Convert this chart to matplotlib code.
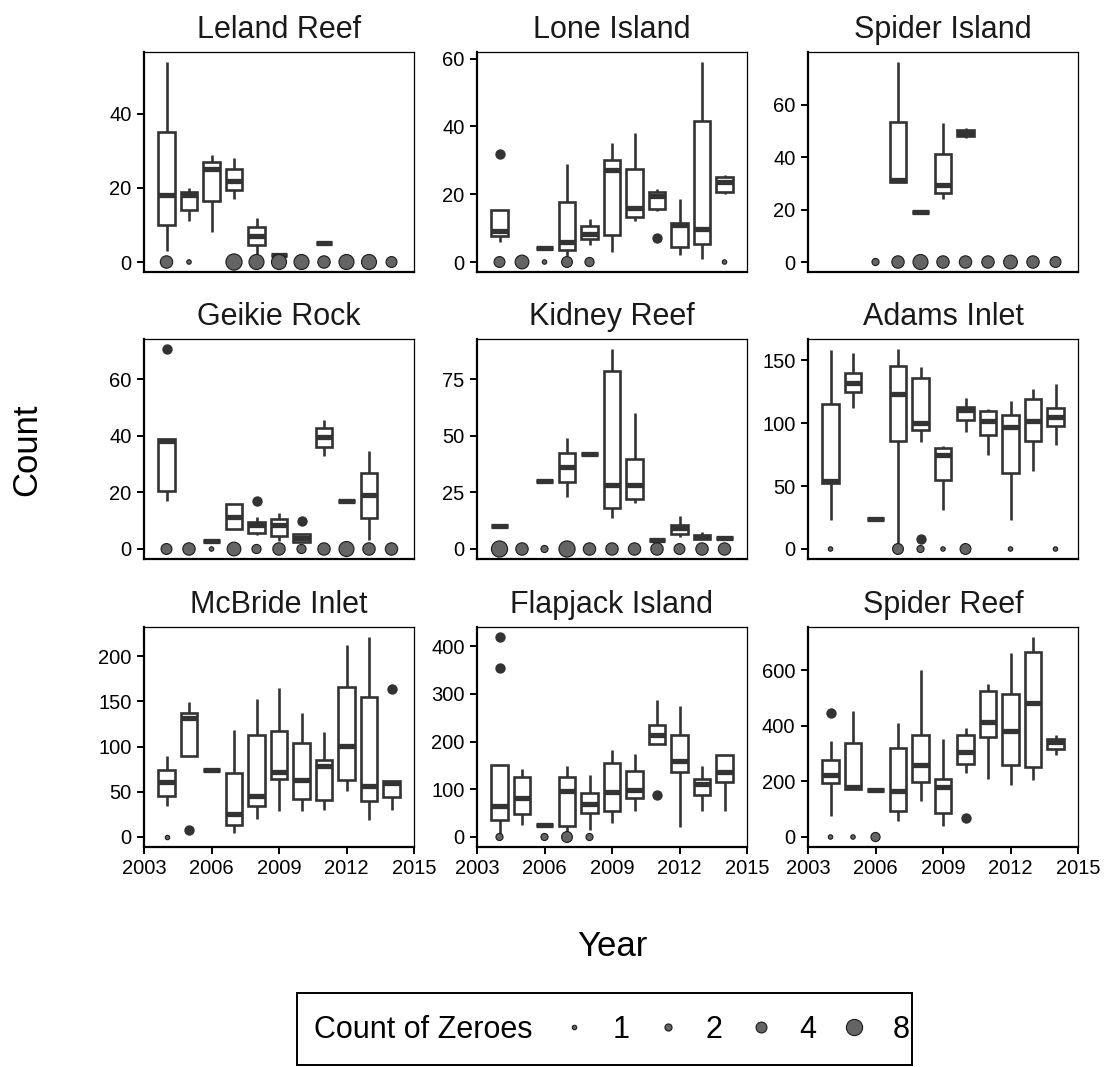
import numpy as np
import matplotlib.pyplot as plt
from matplotlib.lines import Line2D
from matplotlib.patches import Rectangle

plt.rcParams['font.family'] = ['Liberation Sans', 'DejaVu Sans']

years = [2004, 2005, 2006, 2007, 2008, 2009, 2010, 2011, 2012, 2013, 2014]
x_ticks = [2003, 2006, 2009, 2012, 2015]

# box stats per year: (low whisker, q1, median, q3, high whisker); None = no non-zero counts
leland_box = [(3, 10, 18, 35, 54), (11, 14, 18, 19, 20), (8, 16.5, 25, 27, 29),
              (17, 19.5, 22, 25, 28), (2, 4.5, 7, 9.5, 12), (2, 2, 2, 2, 2),
              None, (5, 5, 5, 5, 5), None, None, None]
leland_out = []
leland_zero = [5, 1, 0, 8, 7, 7, 7, 5, 7, 7, 4]
leland_ticks = [0, 20, 40]

lone_box = [(6, 7.6, 9, 15.4, 15.4), None, (4, 4, 4, 4, 4), (1.7, 3.4, 6, 17.6, 29),
            (5, 6.8, 8.2, 10.5, 12.8), (3, 8, 27, 30, 35), (12, 13.3, 16, 27.4, 38),
            (15, 15.7, 19.5, 20.6, 21.6), (2, 4.4, 10.8, 11.5, 18.7),
            (1, 5.3, 9.7, 41.5, 59), (20, 20.6, 23.5, 25.2, 25.7)]
lone_out = [(2004, 32), (2011, 7)]
lone_zero = [4, 6, 1, 4, 3, 0, 0, 0, 0, 0, 1]
lone_ticks = [0, 20, 40, 60]

spider_is_box = [None, None, None, (30.4, 30.4, 31.4, 53.6, 76.3), (19, 19, 19, 19, 19),
                 (24.2, 26.3, 29.5, 41.2, 53), (47.3, 48.2, 49.2, 50.2, 51),
                 None, None, None, None]
spider_is_out = []
spider_is_zero = [0, 0, 2, 5, 7, 5, 5, 5, 6, 5, 4]
spider_is_ticks = [0, 20, 40, 60]

geikie_box = [(17.1, 20.6, 38, 38.8, 38.8), None, (3, 3, 3, 3, 3), (7, 7, 11.4, 15.9, 15.9),
              (5, 5.5, 8.5, 9.4, 11.4), (3, 4.7, 8.5, 10.5, 12.6), (2.4, 2.4, 3.8, 5.3, 5.3),
              (33, 36, 39.7, 42.7, 45.6), (17, 17, 17, 17, 17),
              (3.2, 10.8, 18.9, 27, 34.7), None]
geikie_out = [(2004, 70.6), (2008, 17), (2010, 10)]
geikie_zero = [4, 5, 1, 6, 3, 5, 3, 5, 7, 5, 5]
geikie_ticks = [0, 20, 40, 60]

kidney_box = [(10, 10, 10, 10, 10), None, (30, 30, 30, 30, 30),
              (23.1, 29.5, 36.1, 42.6, 48.9), (42, 42, 42, 42, 42),
              (13.9, 18, 28.3, 78.7, 88.3), (20.2, 22.1, 28.3, 39.8, 60),
              (4, 4, 4, 4, 4), (5.5, 6.5, 9.4, 10.6, 14.6), (4.3, 4.3, 5.2, 6.2, 7.4),
              (5, 5, 5, 5, 5)]
kidney_out = []
kidney_zero = [8, 5, 2, 8, 5, 5, 5, 5, 4, 5, 5]
kidney_ticks = [0, 25, 50, 75]

adams_box = [(23.1, 52.4, 53.7, 115.4, 158), (111.7, 124.7, 132, 140, 156),
             (24, 24, 24, 24, 24), (1, 86.2, 122.9, 145.5, 159),
             (84.8, 95, 100.3, 136, 145), (31, 55, 74.5, 80.3, 81.6),
             (93, 102.4, 110.4, 113, 120), (74.5, 91, 102, 109.6, 111.4),
             (23.1, 60.4, 97, 106.4, 118), (61.7, 85.6, 101.6, 119.4, 127.4),
             (83, 97.6, 104.8, 112.2, 130.9)]
adams_out = [(2008, 7.7)]
adams_zero = [1, 0, 0, 4, 2, 1, 4, 0, 1, 0, 1]
adams_ticks = [0, 50, 100, 150]

mcbride_box = [(34.7, 45.8, 60.5, 74.5, 89.3), (89.3, 89.3, 131.7, 137.3, 149),
               (74, 74, 74, 74, 74), (4.4, 13.7, 25.5, 70.8, 117.7),
               (20.3, 34, 45.8, 112.5, 153), (28.4, 64.2, 72, 117, 165),
               (28.4, 42, 63.5, 104, 136.5), (30.3, 41.3, 78, 84.9, 115.9),
               (50.5, 63.5, 101, 165.7, 212), (19.2, 39.5, 56, 155, 221),
               (30.3, 43.9, 59.8, 61.6, 61.6)]
mcbride_out = [(2005, 7.4), (2014, 163)]
mcbride_zero = [1, 0, 0, 0, 0, 0, 0, 0, 0, 0, 0]
mcbride_ticks = [0, 50, 100, 150, 200]

flapjack_box = [(5, 36.4, 64.3, 151.7, 151.7), (24.5, 48.3, 81.8, 126, 143.4),
                (25.9, 25.9, 25.9, 25.9, 25.9), (8.4, 23.8, 95.8, 125.2, 149.7),
                (15.4, 50.3, 69.2, 92.3, 130.8), (29.4, 53.8, 93.7, 155.2, 181.8),
                (55.2, 81.8, 99.3, 137.8, 174.8), (195.8, 195.8, 214.7, 233.6, 286),
                (20.3, 135.7, 158.7, 214.7, 274), (55.2, 88.8, 111.9, 121.7, 149.7),
                (53.8, 114.7, 136.4, 172.7, 172.7)]
flapjack_out = [(2004, 419), (2004, 354.5), (2011, 88.8)]
flapjack_zero = [2, 0, 2, 4, 2, 0, 0, 0, 0, 0, 0]
flapjack_ticks = [0, 100, 200, 300, 400]

spider_rf_box = [(74.5, 195, 225, 279, 345), (174, 174, 181, 339, 453),
                 (168, 168, 168, 168, 168), (56.5, 95, 165, 321, 411),
                 (128.6, 198, 261, 369, 600), (40.9, 86.6, 180, 209, 353.5),
                 (231, 264.5, 305, 365.5, 393), (210.4, 360.7, 415, 525, 552),
                 (188.8, 258.5, 381, 515.8, 663.7), (206.8, 251, 481, 667, 720),
                 (297, 318.6, 341.5, 353.5, 369)]
spider_rf_out = [(2004, 447), (2010, 68.5)]
spider_rf_zero = [1, 1, 3, 0, 0, 0, 0, 0, 0, 0, 0]
spider_rf_ticks = [0, 200, 400, 600]

size_breaks = [1, 2, 4, 8]

sites = [
    ("Leland Reef", leland_box, leland_out, leland_zero, leland_ticks),
    ("Lone Island", lone_box, lone_out, lone_zero, lone_ticks),
    ("Spider Island", spider_is_box, spider_is_out, spider_is_zero, spider_is_ticks),
    ("Geikie Rock", geikie_box, geikie_out, geikie_zero, geikie_ticks),
    ("Kidney Reef", kidney_box, kidney_out, kidney_zero, kidney_ticks),
    ("Adams Inlet", adams_box, adams_out, adams_zero, adams_ticks),
    ("McBride Inlet", mcbride_box, mcbride_out, mcbride_zero, mcbride_ticks),
    ("Flapjack Island", flapjack_box, flapjack_out, flapjack_zero, flapjack_ticks),
    ("Spider Reef", spider_rf_box, spider_rf_out, spider_rf_zero, spider_rf_ticks),
]

LINE = '#333333'
ZFILL = '#646464'
EDGE_LW = 0.8


def zero_marker(n):
    # area-style size scale (1..6) like ggplot, converted to a marker diameter in points
    size = 1 + 5 * (np.sqrt(n) - 1) / (np.sqrt(8) - 1)
    px = 2.35 * size + 3.2 - EDGE_LW * 100 / 72
    return px * 0.72


W, H = 1105, 1067
fig = plt.figure(figsize=(W / 100, H / 100), dpi=100)

col_x = [144, 477, 808]
row_y = [52, 339, 627]
pw, ph = 270, 220

for i, (name, box, out, zero, yt) in enumerate(sites):
    r, c = divmod(i, 3)
    ax = fig.add_axes([col_x[c] / W, 1 - (row_y[r] + ph) / H, pw / W, ph / H])

    stats, pos = [], []
    for yr, b in zip(years, box):
        if b is None:
            continue
        lo, q1, med, q3, hi = b
        stats.append(dict(whislo=lo, q1=q1, med=med, q3=q3, whishi=hi, fliers=[]))
        pos.append(yr)
    ax.bxp(stats, positions=pos, widths=0.75, showcaps=False, showfliers=False,
           patch_artist=True, manage_ticks=False,
           boxprops=dict(facecolor='white', edgecolor=LINE, linewidth=1.9),
           whiskerprops=dict(color=LINE, linewidth=1.9, solid_capstyle='butt'),
           medianprops=dict(color=LINE, linewidth=3.8, solid_capstyle='butt'))

    if out:
        ox, oy = zip(*out)
        ax.scatter(ox, oy, s=56, color=LINE, linewidths=0, zorder=4)

    zx = [yr for yr, n in zip(years, zero) if n > 0]
    zn = [n for n in zero if n > 0]
    ax.scatter(zx, [0] * len(zx), s=[zero_marker(n) ** 2 for n in zn],
               facecolor=ZFILL, edgecolor='#1a1a1a', linewidths=EDGE_LW, zorder=5)

    # y range: data span padded by 5%
    vals = [0] + [v for b in box if b is not None for v in b] + [v for _, v in out]
    lo_v, hi_v = min(vals), max(vals)
    pad = 0.05 * (hi_v - lo_v)
    ax.set_ylim(lo_v - pad, hi_v + pad)
    ax.set_xlim(2003, 2015)
    ax.set_yticks(yt)
    ax.set_xticks(x_ticks)

    ax.set_title(name, fontsize=22, pad=10, color='#1a1a1a')
    for side in ['left', 'bottom']:
        ax.spines[side].set_linewidth(1.6)
    for side in ['top', 'right']:
        ax.spines[side].set_linewidth(0.9)
    ax.tick_params(axis='both', direction='out', length=5, width=1.4,
                   labelsize=14.5, pad=4, colors='black')
    if r < 2:
        ax.tick_params(axis='x', bottom=False, labelbottom=False)

fig.text(27 / W, 1 - 450 / H, 'Count', rotation=90, fontsize=25,
         ha='center', va='center')
fig.text(612 / W, 1 - 947 / H, 'Year', fontsize=25, ha='center', va='center')

# legend for the zero-count circles
fig.patches.append(Rectangle((297 / W, 1 - 1065 / H), 615 / W, 72 / H,
                             transform=fig.transFigure, fill=False,
                             edgecolor='black', linewidth=1.4))
fig.text(314 / W, 1 - 1030 / H, 'Count of Zeroes', fontsize=22,
         ha='left', va='center')
handles = [Line2D([], [], linestyle='none', marker='o', markersize=zero_marker(n),
                  markerfacecolor=ZFILL, markeredgecolor='#1a1a1a',
                  markeredgewidth=EDGE_LW) for n in size_breaks]
fig.legend(handles, [str(n) for n in size_breaks], ncol=4, frameon=False,
           loc='center left', bbox_to_anchor=(559 / W, 1 - 1030 / H),
           fontsize=22, handlelength=1.0, handletextpad=0.75,
           columnspacing=0.75, borderpad=0, borderaxespad=0)

fig.savefig('out.png', dpi=100)
